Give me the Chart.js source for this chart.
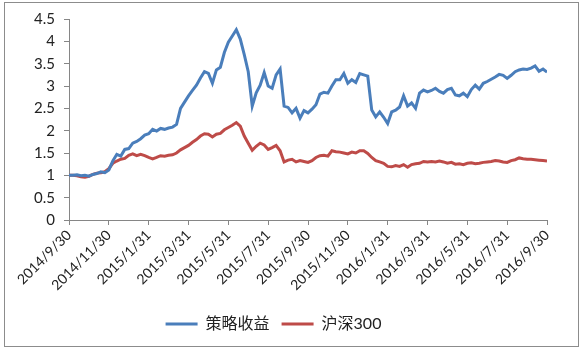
<!DOCTYPE html>
<html><head><meta charset="utf-8">
<script src="https://cdn.jsdelivr.net/npm/chart.js@4/dist/chart.umd.min.js"></script>
<style>
html,body{margin:0;padding:0;background:#fff;}
#wrap{position:relative;width:583px;height:351px;}
</style></head>
<body><div id="wrap"><canvas id="c" width="583" height="351"></canvas></div>
<script>
const tickLabels = ["2014/9/30","2014/11/30","2015/1/31","2015/3/31","2015/5/31","2015/7/31","2015/9/30","2015/11/30","2016/1/31","2016/3/31","2016/5/31","2016/7/31","2016/9/30"];
const seriesNames = ["策略收益","沪深300"];
const strategy = [1.0,1.0,1.01,0.99,1.0,0.98,1.02,1.04,1.08,1.06,
1.12,1.32,1.47,1.43,1.58,1.6,1.72,1.76,1.82,1.9,
1.93,2.03,1.99,2.05,2.03,2.06,2.08,2.14,2.5,2.64,
2.78,2.9,3.02,3.18,3.32,3.28,3.06,3.36,3.42,3.75,
3.98,4.12,4.26,4.05,3.7,3.32,2.55,2.85,3.02,3.3,
3.0,2.95,3.25,3.38,2.55,2.52,2.4,2.5,2.28,2.45,
2.4,2.48,2.58,2.82,2.86,2.84,3.0,3.14,3.14,3.28,
3.06,3.14,3.08,3.28,3.25,3.22,2.46,2.31,2.42,2.3,
2.16,2.42,2.46,2.53,2.78,2.55,2.62,2.5,2.84,2.91,
2.87,2.9,2.95,2.88,2.84,2.92,2.95,2.8,2.78,2.84,
2.76,2.92,3.02,2.93,3.06,3.1,3.15,3.2,3.26,3.24,
3.17,3.24,3.32,3.36,3.38,3.37,3.4,3.45,3.33,3.38,3.31];
const hs300 = [1.0,1.0,0.99,0.97,0.96,0.98,1.02,1.05,1.06,1.08,
1.15,1.27,1.32,1.36,1.38,1.45,1.48,1.44,1.47,1.44,
1.4,1.37,1.4,1.44,1.43,1.45,1.46,1.5,1.57,1.62,
1.67,1.74,1.8,1.88,1.93,1.92,1.86,1.92,1.94,2.02,
2.07,2.12,2.18,2.1,1.88,1.72,1.56,1.65,1.72,1.68,
1.58,1.62,1.67,1.55,1.3,1.34,1.36,1.3,1.33,1.31,
1.29,1.33,1.4,1.44,1.45,1.43,1.55,1.53,1.52,1.5,
1.48,1.52,1.5,1.55,1.55,1.49,1.4,1.33,1.3,1.27,
1.2,1.19,1.22,1.2,1.24,1.18,1.24,1.26,1.27,1.31,
1.3,1.31,1.3,1.32,1.3,1.27,1.29,1.25,1.26,1.24,
1.27,1.28,1.26,1.27,1.29,1.3,1.31,1.33,1.32,1.3,
1.29,1.33,1.35,1.39,1.37,1.36,1.36,1.35,1.34,1.33,1.32];
const yTicks = [0,0.5,1,1.5,2,2.5,3,3.5,4,4.5];

const STEP = (strategy.length - 1) / (tickLabels.length - 1);
const toPts = arr => arr.map((v,i)=>({x:i,y:v}));

const borderPlugin = {
  id:'outerBorder',
  beforeDraw(chart){
    const ctx = chart.ctx;
    ctx.save();
    ctx.fillStyle = '#fff';
    ctx.fillRect(0,0,chart.width,chart.height);
    ctx.strokeStyle = '#8c8c8c';
    ctx.lineWidth = 1;
    ctx.strokeRect(4.5,2.5,574,344);
    ctx.restore();
  }
};

const axisColor = '#868686';
const fontFam = "Lato, 'Noto Sans CJK SC', sans-serif";

new Chart(document.getElementById('c'), {
  type:'line',
  data:{
    datasets:[
      {label:seriesNames[0], data:toPts(strategy), borderColor:'#4a7ebb', backgroundColor:'#4a7ebb', borderWidth:3, pointRadius:0, tension:0},
      {label:seriesNames[1], data:toPts(hs300), borderColor:'#be4b48', backgroundColor:'#be4b48', borderWidth:3, pointRadius:0, tension:0}
    ]
  },
  options:{
    responsive:false,
    animation:false,
    layout:{padding:{top:19,left:0,right:36,bottom:9}},
    plugins:{
      legend:{
        position:'bottom',
        labels:{
          usePointStyle:true, pointStyle:'line', pointStyleWidth:32,
          color:'#222', font:{family:fontFam,size:16}, padding:12
        }
      },
      tooltip:{enabled:false}
    },
    scales:{
      x:{
        type:'linear', min:0, max:strategy.length-1,
        afterBuildTicks(scale){ scale.ticks = tickLabels.map((_,k)=>({value:k*STEP})); },
        afterFit(scale){ scale.height = 84; },
        ticks:{
          autoSkip:false, maxRotation:45, minRotation:45, padding:2,
          color:'#222', font:{family:fontFam,size:14},
          callback:(v)=>tickLabels[Math.round(v/STEP)]
        },
        grid:{drawOnChartArea:false, drawTicks:true, tickLength:5, color:axisColor},
        border:{display:true,color:axisColor}
      },
      y:{
        min:0, max:4.5,
        afterBuildTicks(scale){ scale.ticks = yTicks.map(v=>({value:v})); },
        afterFit(scale){ scale.width = 69; },
        ticks:{
          padding:9, color:'#222', font:{family:fontFam,size:15},
          callback:(v)=>String(v)
        },
        grid:{drawOnChartArea:false, drawTicks:true, tickLength:5, color:axisColor},
        border:{display:true,color:axisColor}
      }
    }
  },
  plugins:[borderPlugin]
});
</script>
</body></html>
